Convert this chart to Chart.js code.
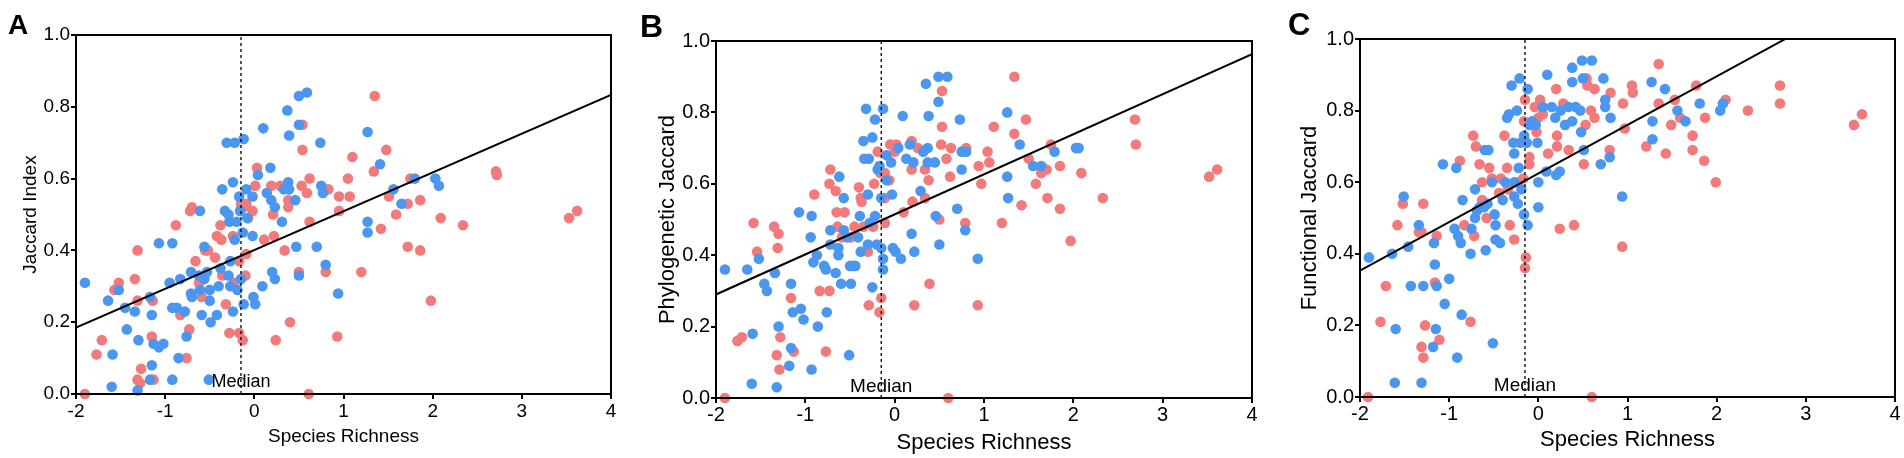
<!DOCTYPE html>
<html>
<head>
<meta charset="utf-8">
<script src="https://cdn.jsdelivr.net/npm/chart.js@4.4.1/dist/chart.umd.min.js"></script>
<style>
  body { margin: 0; background: #fff; width: 1904px; height: 458px; position: relative; overflow: hidden;
         font-family: "Liberation Sans", Arial, sans-serif; }
  .panel { position: absolute; top: 0; height: 458px; }
  .tag { position: absolute; font-weight: bold; line-height: 1; color: #000; }
</style>
</head>
<body>
<div class="panel" style="left:0;width:630px"><canvas id="chartA"></canvas></div>
<div class="panel" style="left:630px;width:630px"><canvas id="chartB"></canvas></div>
<div class="panel" style="left:1260px;width:644px"><canvas id="chartC"></canvas></div>
<div class="tag" style="left:8px;top:11px;font-size:28px">A</div>
<div class="tag" style="left:640px;top:10px;font-size:32px">B</div>
<div class="tag" style="left:1288px;top:9px;font-size:31px">C</div>
<script>
// shared
const xTitle = "Species Richness";
const medianLabel = "Median";
const median = -0.15;
const red = "#f27a7b";
const blue = "#4b97f0";

// A: Jaccard Index
const aRedX = [-1.90,-1.77,-1.71,-1.57,-1.52,-1.34,-1.31,-1.31,-1.27,-1.31,-1.28,-1.14,-1.15,-1.13,-0.88,-0.83,-0.76,-0.73,-0.70,-0.72,-0.66,-0.62,-0.59,-0.55,-0.52,-0.44,-0.42,-0.38,-0.37,-0.36,-0.32,-0.28,-0.24,-0.23,-0.17,-0.17,-0.13,-0.15,-0.12,-0.10,-0.09,-0.09,-0.07,-0.02,0.01,0.03,0.11,0.19,0.21,0.22,0.24,0.29,0.34,0.38,0.38,0.40,0.50,0.53,0.54,0.54,0.59,0.61,0.62,0.62,0.80,0.83,0.93,0.95,0.95,1.05,1.07,1.10,1.20,1.34,1.35,1.42,1.48,1.51,1.59,1.72,1.72,1.75,1.86,1.86,1.98,2.09,2.34,2.71,2.72,3.53,3.62];
const aRedY = [0.00,0.11,0.15,0.29,0.31,0.32,0.40,0.26,0.07,0.04,0.03,0.26,0.16,0.04,0.47,0.22,0.10,0.18,0.52,0.51,0.37,0.31,0.27,0.40,0.40,0.38,0.44,0.47,0.43,0.33,0.25,0.17,0.44,0.31,0.17,0.37,0.15,0.53,0.52,0.33,0.39,0.53,0.49,0.51,0.58,0.63,0.43,0.58,0.50,0.44,0.15,0.58,0.40,0.52,0.54,0.20,0.34,0.58,0.75,0.68,0.56,0.00,0.60,0.48,0.34,0.57,0.16,0.55,0.51,0.60,0.55,0.66,0.34,0.62,0.83,0.46,0.68,0.55,0.50,0.41,0.53,0.60,0.54,0.40,0.26,0.49,0.47,0.62,0.61,0.49,0.51];
const aBlueX = [-1.90,-1.64,-1.59,-1.60,-1.52,-1.45,-1.43,-1.34,-1.30,-1.31,-1.17,-1.15,-1.15,-1.17,-1.13,-1.07,-1.02,-1.07,-0.92,-0.95,-0.92,-0.92,-0.87,-0.83,-0.85,-0.78,-0.76,-0.71,-0.70,-0.71,-0.61,-0.59,-0.62,-0.56,-0.56,-0.53,-0.61,-0.42,-0.49,-0.50,-0.51,-0.50,-0.40,-0.38,-0.36,-0.33,-0.31,-0.29,-0.28,-0.27,-0.29,-0.27,-0.24,-0.22,-0.22,-0.20,-0.24,-0.19,-0.17,-0.16,-0.15,-0.13,-0.12,-0.12,-0.09,-0.08,-0.02,-0.02,-0.01,0.01,0.04,0.10,0.09,0.14,0.18,0.19,0.20,0.23,0.23,0.31,0.33,0.37,0.38,0.39,0.39,0.46,0.47,0.50,0.50,0.50,0.59,0.70,0.74,0.75,0.77,0.80,0.94,1.27,1.27,1.27,1.41,1.56,1.65,1.80,2.03,2.07];
const aBlueY = [0.31,0.26,0.11,0.02,0.29,0.24,0.18,0.23,0.15,0.01,0.27,0.22,0.08,0.04,0.14,0.13,0.14,0.42,0.42,0.31,0.04,0.24,0.24,0.32,0.10,0.23,0.16,0.28,0.27,0.34,0.51,0.22,0.33,0.41,0.32,0.34,0.29,0.22,0.20,0.29,0.04,0.26,0.30,0.35,0.57,0.51,0.70,0.50,0.48,0.37,0.33,0.30,0.59,0.70,0.43,0.48,0.23,0.29,0.55,0.51,0.32,0.45,0.71,0.25,0.57,0.49,0.55,0.44,0.27,0.25,0.61,0.74,0.30,0.56,0.63,0.54,0.34,0.52,0.32,0.48,0.57,0.79,0.59,0.72,0.57,0.54,0.41,0.83,0.75,0.33,0.84,0.41,0.70,0.58,0.56,0.36,0.28,0.73,0.48,0.45,0.64,0.57,0.53,0.60,0.60,0.58];
const aFitX = [-2, 4];
const aFitY = [0.185, 0.833];

// B: Phylogenetic Jaccard
const bRedX = [-1.90,-1.76,-1.71,-1.58,-1.54,-1.35,-1.30,-1.31,-1.28,-1.32,-1.29,-1.13,-1.16,-0.90,-0.84,-0.73,-0.77,-0.72,-0.73,-0.66,-0.65,-0.56,-0.64,-0.59,-0.49,-0.45,-0.40,-0.38,-0.37,-0.35,-0.30,-0.29,-0.24,-0.23,-0.19,-0.16,-0.15,-0.17,-0.11,-0.11,-0.11,-0.06,-0.05,0.02,0.00,0.10,0.19,0.20,0.19,0.22,0.26,0.34,0.38,0.39,0.34,0.50,0.53,0.53,0.52,0.58,0.62,0.63,0.60,0.79,0.80,0.93,0.94,0.97,1.34,1.47,1.11,1.34,1.04,1.06,1.50,1.75,1.70,1.64,1.58,1.85,2.09,1.71,1.85,1.42,1.20,1.97,2.33,2.69,2.70,3.52,3.61];
const bRedY = [0.00,0.16,0.17,0.49,0.41,0.48,0.46,0.42,0.17,0.12,0.08,0.13,0.28,0.57,0.30,0.30,0.13,0.64,0.60,0.58,0.52,0.52,0.48,0.45,0.45,0.48,0.59,0.56,0.55,0.48,0.41,0.26,0.48,0.60,0.69,0.63,0.28,0.24,0.49,0.56,0.63,0.61,0.71,0.71,0.69,0.52,0.72,0.55,0.64,0.26,0.70,0.64,0.61,0.32,0.56,0.50,0.86,0.76,0.71,0.67,0.62,0.70,0.00,0.49,0.70,0.26,0.65,0.60,0.90,0.78,0.76,0.74,0.69,0.66,0.67,0.71,0.64,0.63,0.60,0.65,0.63,0.56,0.53,0.54,0.49,0.44,0.56,0.78,0.71,0.62,0.64];
const bBlueX = [-1.90,-1.65,-1.52,-1.60,-1.59,-1.46,-1.43,-1.34,-1.30,-1.32,-1.18,-1.16,-1.16,-1.14,-1.05,-1.02,-1.07,-0.93,-0.94,-0.93,-0.91,-0.87,-0.86,-0.79,-0.77,-0.76,-0.72,-0.72,-0.66,-0.63,-0.63,-0.62,-0.60,-0.57,-0.57,-0.53,-0.51,-0.50,-0.49,-0.46,-0.44,-0.41,-0.39,-0.38,-0.35,-0.34,-0.29,-0.30,-0.30,-0.28,-0.25,-0.25,-0.22,-0.22,-0.20,-0.19,-0.32,-0.13,-0.17,-0.15,-0.13,-0.13,-0.15,-0.09,-0.09,-0.04,-0.03,-0.02,0.01,0.04,0.07,0.09,0.17,0.13,0.19,0.21,0.22,0.29,0.32,0.37,0.35,0.38,0.37,0.45,0.46,0.49,0.49,0.59,0.50,0.70,0.73,0.75,0.75,0.80,0.79,0.93,1.26,1.40,1.26,1.27,1.55,1.64,1.79,2.03,2.06];
const bBlueY = [0.36,0.36,0.39,0.04,0.18,0.32,0.30,0.35,0.20,0.03,0.09,0.32,0.14,0.24,0.25,0.22,0.52,0.51,0.45,0.08,0.38,0.40,0.20,0.37,0.36,0.24,0.47,0.43,0.35,0.42,0.40,0.62,0.32,0.56,0.47,0.45,0.12,0.37,0.32,0.37,0.37,0.45,0.51,0.41,0.72,0.67,0.67,0.57,0.43,0.49,0.31,0.73,0.78,0.51,0.43,0.64,0.81,0.81,0.65,0.56,0.39,0.36,0.42,0.68,0.61,0.66,0.57,0.42,0.41,0.70,0.39,0.79,0.71,0.67,0.46,0.66,0.41,0.58,0.69,0.70,0.88,0.79,0.66,0.66,0.51,0.83,0.90,0.90,0.43,0.53,0.78,0.64,0.69,0.69,0.47,0.39,0.80,0.71,0.62,0.56,0.65,0.65,0.69,0.70,0.70];
const bFitX = [-2, 4];
const bFitY = [0.29, 0.963];

// C: Functional Jaccard
const cRedX = [-1.91,-1.77,-1.71,-1.58,-1.52,-1.34,-1.31,-1.29,-1.31,-1.29,-1.27,-1.16,-1.14,-1.11,-0.88,-0.83,-0.76,-0.73,-0.70,-0.72,-0.66,-0.63,-0.63,-0.58,-0.55,-0.52,-0.44,-0.42,-0.38,-0.35,-0.34,-0.32,-0.27,-0.23,-0.17,-0.16,-0.15,-0.10,-0.10,-0.14,-0.15,-0.04,0.00,0.02,-0.02,0.05,0.11,0.20,0.21,0.21,0.24,0.28,0.34,0.40,0.51,0.53,0.54,0.55,0.59,0.60,0.63,0.63,0.80,0.81,0.94,0.95,1.05,1.06,0.97,1.35,1.35,1.53,1.77,2.10,1.49,1.59,1.87,1.73,1.73,1.21,1.43,1.86,1.99,2.35,2.71,2.71,3.54,3.63];
const cRedY = [0.00,0.21,0.31,0.48,0.54,0.46,0.46,0.54,0.14,0.11,0.20,0.32,0.45,0.16,0.66,0.48,0.21,0.73,0.70,0.45,0.65,0.60,0.55,0.50,0.64,0.61,0.57,0.61,0.73,0.64,0.58,0.48,0.44,0.60,0.61,0.77,0.83,0.67,0.65,0.39,0.36,0.81,0.78,0.83,0.74,0.79,0.68,0.86,0.73,0.70,0.47,0.82,0.69,0.48,0.65,0.76,0.89,0.87,0.80,0.00,0.86,0.78,0.69,0.85,0.42,0.82,0.87,0.85,0.75,0.93,0.82,0.83,0.87,0.83,0.76,0.78,0.78,0.73,0.69,0.70,0.68,0.66,0.60,0.80,0.87,0.82,0.76,0.79];
const cBlueX = [-1.90,-1.64,-1.61,-1.60,-1.51,-1.46,-1.43,-1.34,-1.31,-1.29,-1.18,-1.17,-1.16,-1.15,-1.14,-1.07,-1.05,-1.00,-0.94,-0.92,-0.91,-0.90,-0.87,-0.86,-0.85,-0.76,-0.75,-0.71,-0.71,-0.69,-0.66,-0.61,-0.60,-0.56,-0.59,-0.57,-0.52,-0.51,-0.49,-0.48,-0.48,-0.43,-0.40,-0.37,-0.35,-0.33,-0.30,-0.28,-0.27,-0.27,-0.27,-0.24,-0.23,-0.22,-0.21,-0.20,-0.19,-0.16,-0.16,-0.13,-0.12,-0.12,-0.10,-0.07,-0.03,-0.01,0.00,0.00,0.05,0.10,0.09,0.15,0.19,0.20,0.24,0.25,0.30,0.34,0.38,0.38,0.38,0.42,0.47,0.48,0.49,0.50,0.51,0.60,0.70,0.73,0.75,0.75,0.80,0.81,0.94,1.27,1.42,1.56,1.28,1.65,1.28,1.81,2.04,2.07];
const cBlueY = [0.39,0.40,0.04,0.19,0.56,0.42,0.31,0.48,0.04,0.31,0.14,0.43,0.37,0.19,0.31,0.65,0.26,0.33,0.47,0.64,0.11,0.45,0.43,0.23,0.55,0.40,0.47,0.58,0.50,0.52,0.53,0.53,0.69,0.69,0.41,0.54,0.60,0.15,0.51,0.48,0.44,0.43,0.55,0.60,0.78,0.79,0.87,0.71,0.68,0.60,0.56,0.80,0.54,0.64,0.89,0.71,0.58,0.73,0.51,0.71,0.48,0.86,0.76,0.77,0.76,0.71,0.60,0.53,0.81,0.90,0.63,0.81,0.78,0.62,0.63,0.80,0.76,0.81,0.92,0.88,0.77,0.81,0.80,0.74,0.94,0.89,0.69,0.94,0.65,0.89,0.83,0.81,0.67,0.78,0.56,0.88,0.86,0.80,0.77,0.77,0.72,0.82,0.80,0.82];
const cFitX = [-2, 4];
const cFitY = [0.353, 1.167];

Chart.defaults.font.family = '"Liberation Sans", Arial, sans-serif';
Chart.defaults.color = "#000";

function pts(xs, ys) {
  return xs.map((x, i) => ({ x: x, y: ys[i] }));
}

// box round the plot area and the median label
const frame = {
  id: "frame",
  afterDatasetsDraw(chart, args, opts) {
    const { ctx, chartArea: a, scales } = chart;
    ctx.save();
    ctx.strokeStyle = "#000";
    ctx.lineWidth = 2;
    ctx.strokeRect(a.left, a.top, a.right - a.left, a.bottom - a.top);
    ctx.fillStyle = "#000";
    ctx.font = opts.size + 'px "Liberation Sans", Arial, sans-serif';
    ctx.textAlign = "center";
    ctx.textBaseline = "alphabetic";
    ctx.fillText(medianLabel, scales.x.getPixelForValue(median), a.bottom - opts.lift);
    ctx.restore();
  }
};

function makeChart(id, o) {
  const ctx = document.getElementById(id);
  new Chart(ctx, {
    type: "scatter",
    data: {
      datasets: [
        { data: pts(o.fitX, o.fitY), showLine: true, borderColor: "#000", borderWidth: 2, pointRadius: 0 },
        { data: pts([median, median], [0, 1]), showLine: true, borderColor: "#000", borderWidth: 1.3, borderDash: [3, 3], pointRadius: 0 },
        { data: pts(o.blueX, o.blueY), backgroundColor: blue, pointRadius: 5.3, borderWidth: 0, clip: false },
        { data: pts(o.redX, o.redY), backgroundColor: red, pointRadius: 5.3, borderWidth: 0, clip: false }
      ]
    },
    options: {
      responsive: true,
      maintainAspectRatio: false,
      animation: false,
      events: [],
      layout: { padding: { left: 0, top: o.top, right: o.right, bottom: 0 } },
      plugins: { legend: { display: false }, tooltip: { enabled: false }, frame: { size: o.medSize, lift: o.lift } },
      scales: {
        x: {
          type: "linear", min: -2, max: 4,
          ticks: { stepSize: 1, font: { size: o.tick }, padding: o.xtp, maxRotation: 0 },
          grid: { drawOnChartArea: false, color: "#000", lineWidth: 2, tickLength: 5 },
          border: { color: "#000", width: 2 },
          title: { display: true, text: xTitle, font: { size: o.title }, padding: { top: 0, bottom: o.xtitle } },
          afterFit(s) { s.height = o.xh; s.paddingLeft = 0; s.paddingRight = 0; }
        },
        y: {
          min: 0, max: 1,
          ticks: { stepSize: 0.2, font: { size: o.tick }, padding: 1, callback: v => v.toFixed(1) },
          grid: { drawOnChartArea: false, color: "#000", lineWidth: 2, tickLength: 5 },
          border: { color: "#000", width: 2 },
          title: { display: true, text: o.yTitle, font: { size: o.title }, padding: { top: o.ytitle, bottom: 0 } },
          afterFit(s) { s.width = o.yw; s.paddingTop = 0; s.paddingBottom = 0; }
        }
      }
    },
    plugins: [frame]
  });
}

makeChart("chartA", { redX: aRedX, redY: aRedY, blueX: aBlueX, blueY: aBlueY, fitX: aFitX, fitY: aFitY,
  yTitle: "Jaccard Index", top: 35, right: 19, yw: 76, xh: 64, tick: 19, title: 19, xtp: 1, xtitle: 10, ytitle: 19, medSize: 18, lift: 7 });
makeChart("chartB", { redX: bRedX, redY: bRedY, blueX: bBlueX, blueY: bBlueY, fitX: bFitX, fitY: bFitY,
  yTitle: "Phylogenetic Jaccard", top: 41, right: 8, yw: 86, xh: 60, tick: 20, title: 22, xtp: 0, xtitle: 2, ytitle: 25, medSize: 19, lift: 6 });
makeChart("chartC", { redX: cRedX, redY: cRedY, blueX: cBlueX, blueY: cBlueY, fitX: cFitX, fitY: cFitY,
  yTitle: "Functional Jaccard", top: 39, right: 9, yw: 100, xh: 61, tick: 20, title: 22, xtp: 0, xtitle: 5, ytitle: 37, medSize: 19, lift: 6 });
</script>
</body>
</html>
